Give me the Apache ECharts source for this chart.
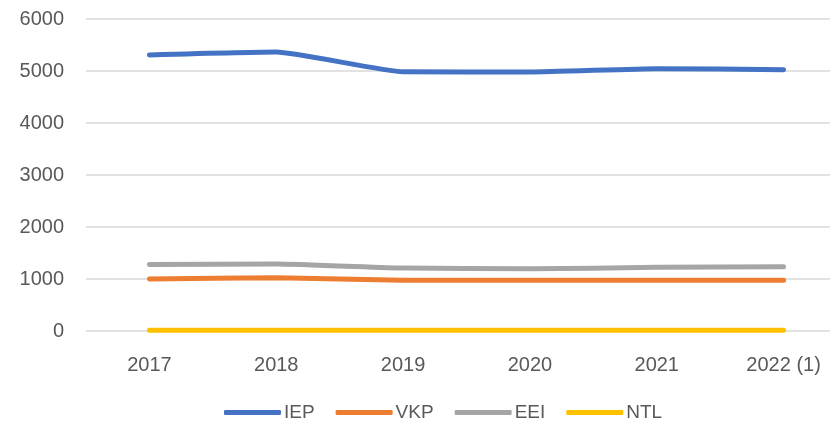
<!DOCTYPE html>
<html>
<head>
<meta charset="utf-8">
<script src="https://cdn.jsdelivr.net/npm/echarts@6/dist/echarts.min.js"></script>
<style>
  html, body { margin: 0; padding: 0; background: #fff; overflow: hidden; }
  #chart { width: 847px; height: 426px; }
</style>
</head>
<body>
<div id="chart"></div>
<script>
// chart data
const years = ['2017', '2018', '2019', '2020', '2021', '2022 (1)'];
const iep = [5310, 5365, 4985, 4980, 5045, 5025];
const vkp = [1000, 1025, 975, 975, 975, 975];
const eei = [1280, 1290, 1210, 1195, 1225, 1235];
const ntl = [15, 15, 15, 15, 15, 15];

const textColor = '#595959';
const fontFamily = '"Liberation Sans", Arial, sans-serif';

function lineSeries (name, data, color) {
  return {
    name: name,
    type: 'line',
    data: data,
    symbol: 'none',
    smooth: 0.15,
    lineStyle: { color: color, width: 5, cap: 'round', join: 'round' },
    itemStyle: { color: color }
  };
}

// the plot runs past the right edge of the window, so the chart div is wider
const myChart = echarts.init(document.getElementById('chart'));
myChart.setOption({
  animation: false,
  textStyle: { fontFamily: fontFamily },
  grid: { left: 86, right: 0, top: 19, bottom: 95 },
  legend: {
    top: 398,
    left: 219,
    icon: 'roundRect',
    itemWidth: 57,
    itemHeight: 5,
    itemGap: 21,
    textStyle: { color: textColor, fontSize: 19, fontFamily: fontFamily, padding: [0, 0, 0, -2] },
    data: ['IEP', 'VKP', 'EEI', 'NTL']
  },
  xAxis: {
    type: 'category',
    data: years,
    boundaryGap: true,
    axisLine: { show: false },
    axisTick: { show: false },
    axisLabel: { color: textColor, fontSize: 20, margin: 24 }
  },
  yAxis: {
    type: 'value',
    min: 0,
    max: 6000,
    interval: 1000,
    axisLine: { show: false },
    axisTick: { show: false },
    axisLabel: { color: textColor, fontSize: 20, margin: 22, formatter: v => String(v) },
    splitLine: { lineStyle: { color: '#d9d9d9', width: 1.5 } }
  },
  series: [
    lineSeries('IEP', iep, '#4472C4'),
    lineSeries('VKP', vkp, '#ED7D31'),
    lineSeries('EEI', eei, '#A5A5A5'),
    lineSeries('NTL', ntl, '#FFC000')
  ]
});
</script>
</body>
</html>
